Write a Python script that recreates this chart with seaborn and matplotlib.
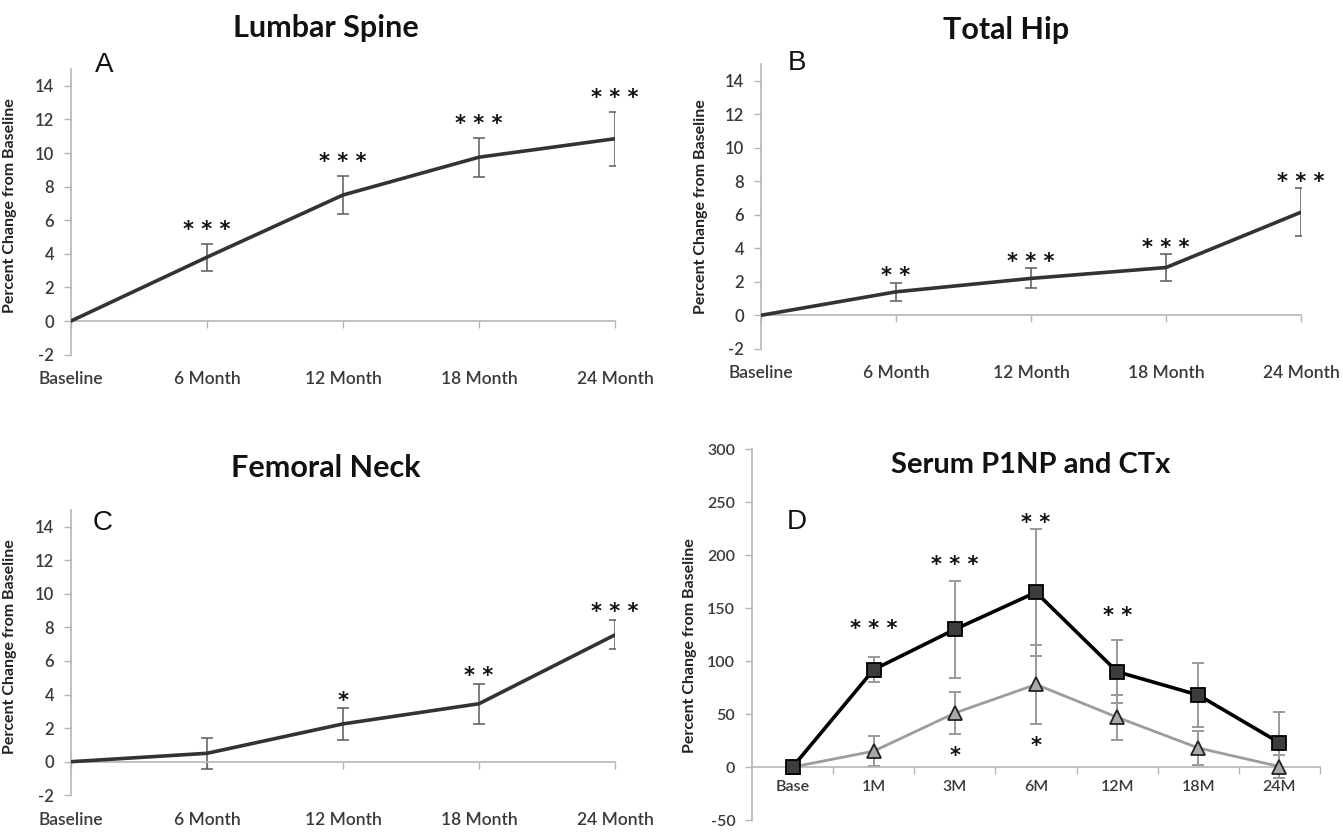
import numpy as np
import matplotlib
matplotlib.use("Agg")
import matplotlib.pyplot as plt
import seaborn as sns

# bone density panels (A-C)
months = ["Baseline", "6 Month", "12 Month", "18 Month", "24 Month"]

spine_mean = [0, 3.8, 7.5, 9.75, 10.85]
spine_err = [0, 0.8, 1.15, 1.15, 1.6]
spine_sig = ["", "* * *", "* * *", "* * *", "* * *"]

hip_mean = [0, 1.4, 2.2, 2.85, 6.15]
hip_err = [0, 0.55, 0.6, 0.78, 1.43]
hip_sig = ["", "* *", "* * *", "* * *", "* * *"]

neck_mean = [0, 0.5, 2.25, 3.45, 7.55]
neck_err = [0, 0.92, 0.93, 1.2, 0.87]
neck_sig = ["", "", "*", "* *", "* * *"]

# serum markers (D)
visits = ["Base", "1M", "3M", "6M", "12M", "18M", "24M"]
p1np = [0, 92, 130, 165, 90, 68, 23]
p1np_err = [0, 12, 46, 60, 30, 30, 29]
p1np_sig = ["", "* * *", "* * *", "* *", "* *", "", ""]
ctx = [0, 15, 51, 78, 47, 18, 0.5]
ctx_err = [0, 14, 20, 37, 21, 16, 11]
ctx_sig = ["", "", "*", "*", "", "", ""]

sns.set_style("ticks")
plt.rcParams["font.family"] = ["Lato", "DejaVu Sans"]

W, H = 1343, 832
fig = plt.figure(figsize=(W / 100, H / 100), dpi=100)

axis_grey = "#b5b5b5"
text_grey = "#3a3a3a"


def box(left, top, right, bottom):
    return fig.add_axes([left / W, 1 - bottom / H, (right - left) / W, (bottom - top) / H])


def star(ax, i, y, s, px, below=False):
    # 4.5pt shift: the asterisk glyph sits high in its text box
    dy = -(px * 0.72 + 4.5) if below else px * 0.72 - 4.5
    ax.annotate(s, xy=(i, y), xytext=(0, dy), textcoords="offset points",
                ha="center", va="center", fontsize=15, fontweight="bold",
                color="#111111", family="DejaVu Sans")


def errbars(ax, cats, vals, errs, color, lw):
    # skip the zero-error baseline point
    keep = [i for i, e in enumerate(errs) if e > 0]
    ax.errorbar([cats[i] for i in keep], [vals[i] for i in keep], yerr=[errs[i] for i in keep],
                fmt="none", ecolor=color, elinewidth=lw, capsize=4.5, capthick=lw, zorder=1)


def style_axes(ax, yticks, label_xy, size):
    ax.set_yticks(yticks, labels=[str(v) for v in yticks], fontweight="semibold")
    for side in ["top", "right"]:
        ax.spines[side].set_visible(False)
    for side in ["left", "bottom"]:
        ax.spines[side].set_color(axis_grey)
        ax.spines[side].set_linewidth(1.2)
    ax.spines["bottom"].set_position(("data", 0))
    ax.tick_params(axis="y", colors=axis_grey, labelcolor=text_grey, length=5,
                   width=1, labelsize=size, pad=7)
    ax.set_ylabel("Percent Change from Baseline", fontsize=11.5, fontweight="bold", color="#222222")
    ax.yaxis.set_label_coords(*label_xy)
    ax.set_xlabel("")


def bone_panel(ax, mean, err, sig, star_px, label_xy):
    sns.lineplot(x=months, y=mean, ax=ax, color="#333333", linewidth=2.6, sort=False, zorder=3)
    errbars(ax, months, mean, err, "#5a5a5a", 1.1)
    style_axes(ax, list(range(-2, 15, 2)), label_xy, 12)
    ax.set_ylim(-2, 15)
    ax.set_xlim(0, 4)
    ax.set_xticks(range(len(months)), labels=months, fontsize=12.5, fontweight="semibold")
    ax.tick_params(axis="x", colors=axis_grey, labelcolor=text_grey, length=5, width=1, pad=31)
    for i, s in enumerate(sig):
        if s:
            star(ax, i, mean[i] + err[i], s, star_px)


axA = box(71, 69, 615, 354.6)
bone_panel(axA, spine_mean, spine_err, spine_sig, 20, (-0.099, 0.52))

axB = box(761, 63.9, 1301, 348.8)
bone_panel(axB, hip_mean, hip_err, hip_sig, 13, (-0.098, 0.50))

axC = box(71, 509.7, 615, 795.3)
bone_panel(axC, neck_mean, neck_err, neck_sig, 14, (-0.099, 0.52))

# panel D
axD = box(752, 449.3, 1320, 820)
sns.lineplot(x=visits, y=ctx, ax=axD, color="#9c9c9c", linewidth=2.0, sort=False,
             marker="^", markersize=10.5, markerfacecolor="#a8a8a8",
             markeredgecolor="#222222", markeredgewidth=1.3, zorder=3)
sns.lineplot(x=visits, y=p1np, ax=axD, color="black", linewidth=2.6, sort=False,
             marker="s", markersize=10, markerfacecolor="#3c3c3c",
             markeredgecolor="black", markeredgewidth=1.3, zorder=4)
errbars(axD, visits, p1np, p1np_err, "#9a9a9a", 1.4)
errbars(axD, visits, ctx, ctx_err, "#9a9a9a", 1.4)
style_axes(axD, list(range(-50, 301, 50)), (-0.097, 0.47), 11.5)
axD.set_ylim(-50, 300)
axD.set_xlim(-0.5, len(visits) - 0.5)
axD.set_xticks(range(len(visits)), labels=visits, fontsize=11.5, fontweight="semibold")
axD.set_xticks(np.arange(0.5, len(visits), 1), minor=True)
axD.tick_params(axis="x", which="major", length=0, labelcolor=text_grey, pad=9)
axD.tick_params(axis="x", which="minor", length=5, width=1, colors=axis_grey)

p1np_pad = [0, 34, 22, 12, 30, 0, 0]
for i, s in enumerate(p1np_sig):
    if s:
        star(axD, i, p1np[i] + p1np_err[i], s, p1np_pad[i])
for i, s in enumerate(ctx_sig):
    if s:
        star(axD, i, ctx[i] - ctx_err[i], s, 16, below=True)

# titles and panel letters
titles = [("Lumbar Spine", 326, 28, 22), ("Total Hip", 1006, 30, 22),
          ("Femoral Neck", 326, 468, 22), ("Serum P1NP and CTx", 1031, 465, 21)]
for t, x, y, fs in titles:
    fig.text(x / W, 1 - y / H, t, ha="center", va="center", fontsize=fs,
             fontweight="bold", color="#111111")

letters = [("A", 104, 65), ("B", 797, 63), ("C", 103, 523), ("D", 797, 522)]
for t, x, y in letters:
    fig.text(x / W, 1 - y / H, t, ha="center", va="center", fontsize=20,
             family="Liberation Sans", color="#111111")

fig.savefig("out.png", dpi=100)
